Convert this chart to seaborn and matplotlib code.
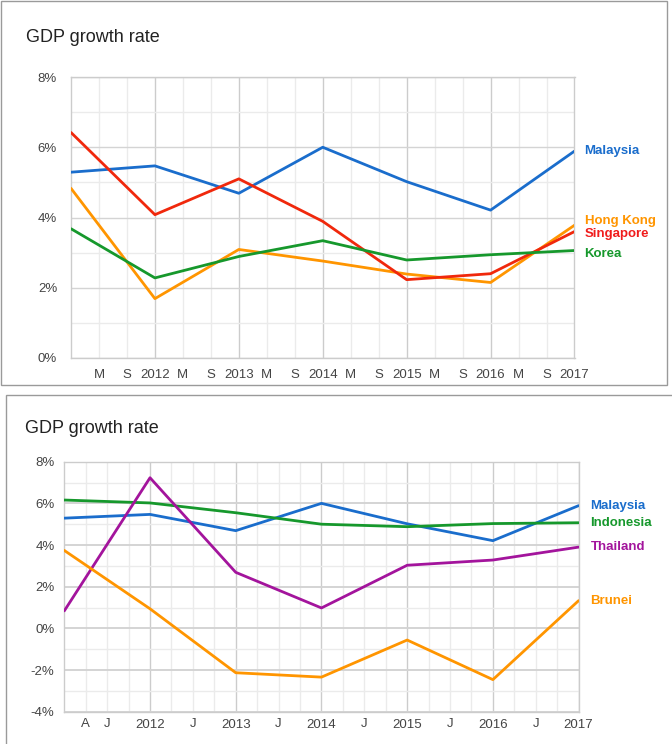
import pandas as pd
import matplotlib
matplotlib.use('Agg')
import matplotlib.pyplot as plt
import matplotlib.ticker as mticker
from matplotlib.patches import Rectangle
import seaborn as sns

# Datos (crescimento anual do PIB, %)
years = [2011, 2012, 2013, 2014, 2015, 2016, 2017]

top_countries = ['Malaysia', 'Hong Kong', 'Singapore', 'Korea']
top_values = {
    'Malaysia':  [5.29, 5.47, 4.69, 6.00, 5.02, 4.21, 5.89],
    'Hong Kong': [4.83, 1.69, 3.09, 2.76, 2.39, 2.15, 3.78],
    'Singapore': [6.42, 4.08, 5.10, 3.89, 2.23, 2.40, 3.60],
    'Korea':     [3.68, 2.28, 2.89, 3.34, 2.79, 2.94, 3.06],
}

bottom_countries = ['Malaysia', 'Indonesia', 'Thailand', 'Brunei']
bottom_values = {
    'Malaysia':  [5.29, 5.47, 4.69, 6.00, 5.02, 4.21, 5.89],
    'Indonesia': [6.16, 6.02, 5.55, 5.00, 4.88, 5.03, 5.07],
    'Thailand':  [0.84, 7.23, 2.69, 0.98, 3.03, 3.28, 3.90],
    'Brunei':    [3.74, 0.94, -2.13, -2.34, -0.56, -2.46, 1.33],
}

top_minor_labels = ['M', 'S'] * 6
top_minor_months = [4, 8]
bottom_minor_labels = ['A', 'J'] + ['J'] * 5
bottom_minor_pos = [2011 + 3 / 12] + [y + 6 / 12 for y in years[:-1]]

colors = {
    'Malaysia': '#1a6dcc',
    'Hong Kong': '#ff9500',
    'Singapore': '#f0280c',
    'Korea': '#16982c',
    'Indonesia': '#16982c',
    'Thailand': '#a3149c',
    'Brunei': '#ff9500',
}
label_colors = dict(colors, **{'Singapore': '#f01c1c'})

W, H = 672, 744


def px_axes(fig, x0, y0, x1, y1):
    """Cria um eixo a partir de coordenadas em pixels (origem no topo)"""
    return fig.add_axes([x0 / W, 1 - y1 / H, (x1 - x0) / W, (y1 - y0) / H])


def to_long(values, countries):
    rows = []
    for c in countries:
        for y, v in zip(years, values[c]):
            rows.append({'year': y, 'value': v, 'country': c})
    return pd.DataFrame(rows)


def style_axes(ax, ymin, ymax, xminor, xpad, ypad, major_lw):
    ax.set_xlim(2011, 2017)
    ax.set_ylim(ymin, ymax)
    ax.xaxis.set_major_locator(mticker.FixedLocator(years[1:]))
    ax.xaxis.set_minor_locator(mticker.FixedLocator(xminor))
    ax.xaxis.set_major_formatter(mticker.FixedFormatter([str(y) for y in years[1:]]))
    ax.yaxis.set_major_locator(mticker.MultipleLocator(2))
    ax.yaxis.set_minor_locator(mticker.MultipleLocator(1))
    ax.yaxis.set_major_formatter(mticker.FuncFormatter(lambda v, p: '%d%%' % v))
    ax.yaxis.set_minor_formatter(mticker.NullFormatter())
    ax.grid(True, which='major', axis='x', color='#cccccc', lw=1.0, zorder=0)
    ax.grid(True, which='minor', axis='x', color='#ebebeb', lw=1.0, zorder=0)
    ax.grid(True, which='major', axis='y', color='#d4d4d4', lw=major_lw, zorder=0)
    ax.grid(True, which='minor', axis='y', color='#ebebeb', lw=1.0, zorder=0)
    ax.set_axisbelow(True)
    for s in ax.spines.values():
        s.set_color('#cccccc')
        s.set_linewidth(1.0)
    ax.tick_params(which='both', length=0, labelsize=9.5, colors='#444444')
    ax.tick_params(axis='x', which='both', pad=xpad)
    ax.tick_params(axis='y', which='both', pad=ypad)
    ax.set_xlabel('')
    ax.set_ylabel('')
    leg = ax.get_legend()
    if leg is not None:
        leg.remove()


sns.set_style('white')
plt.rcParams['font.family'] = ['Liberation Sans', 'DejaVu Sans']

fig = plt.figure(figsize=(W / 100, H / 100), dpi=100)

# molduras dos dois paineis
fig.add_artist(Rectangle((0.5 / W, 1 - 384.5 / H), 666 / W, 384 / H,
                         transform=fig.transFigure, fill=False,
                         edgecolor='#9a9a9a', lw=1.0))
fig.add_artist(Rectangle((5.5 / W, -0.05), 1.0, 1 - 394.5 / H + 0.05,
                         transform=fig.transFigure, fill=False,
                         edgecolor='#9a9a9a', lw=1.0))

# Painel superior
ax1 = px_axes(fig, 71, 77, 574.5, 358)
df1 = to_long(top_values, top_countries)
sns.lineplot(data=df1, x='year', y='value', hue='country',
             palette=colors, lw=2.0, ax=ax1, zorder=3)
top_pos = [y + m / 12 for y in years[:-1] for m in top_minor_months]
style_axes(ax1, 0, 8, top_pos, 8, 10, 1.0)
ax1.xaxis.set_minor_formatter(mticker.FixedFormatter(top_minor_labels))
fig.text(26 / W, 1 - 38 / H, 'GDP growth rate', fontsize=13,
         color='#222222', va='center', ha='left')

top_offsets = {'Malaysia': 0, 'Hong Kong': 4, 'Singapore': -2, 'Korea': -3}
for c in top_countries:
    ax1.annotate(c, (years[-1], top_values[c][-1]),
                 xytext=(10, top_offsets[c]), textcoords='offset pixels',
                 color=label_colors[c], fontsize=9.5, fontweight='bold',
                 va='center', ha='left', annotation_clip=False)

# Painel inferior
ax2 = px_axes(fig, 64.3, 461.7, 578.6, 711.7)
df2 = to_long(bottom_values, bottom_countries)
sns.lineplot(data=df2, x='year', y='value', hue='country',
             palette=colors, lw=2.0, ax=ax2, zorder=3)
quarters = [y + q / 4 for y in years[:-1] for q in (1, 2, 3)]
style_axes(ax2, -4, 8, quarters, 5, 7, 1.4)
ax2.xaxis.set_minor_formatter(mticker.NullFormatter())
for p, lab in zip(bottom_minor_pos, bottom_minor_labels):
    ax2.annotate(lab, (p, -4), xytext=(0, -12), textcoords='offset pixels',
                 ha='center', va='center', fontsize=9.5, color='#444444',
                 annotation_clip=False)
fig.text(25 / W, 1 - 428 / H, 'GDP growth rate', fontsize=13,
         color='#222222', va='center', ha='left')

for c in bottom_countries:
    ax2.annotate(c, (years[-1], bottom_values[c][-1]),
                 xytext=(12, 0), textcoords='offset pixels',
                 color=label_colors[c], fontsize=9.5, fontweight='bold',
                 va='center', ha='left', annotation_clip=False)

fig.savefig('out.png', dpi=100)
